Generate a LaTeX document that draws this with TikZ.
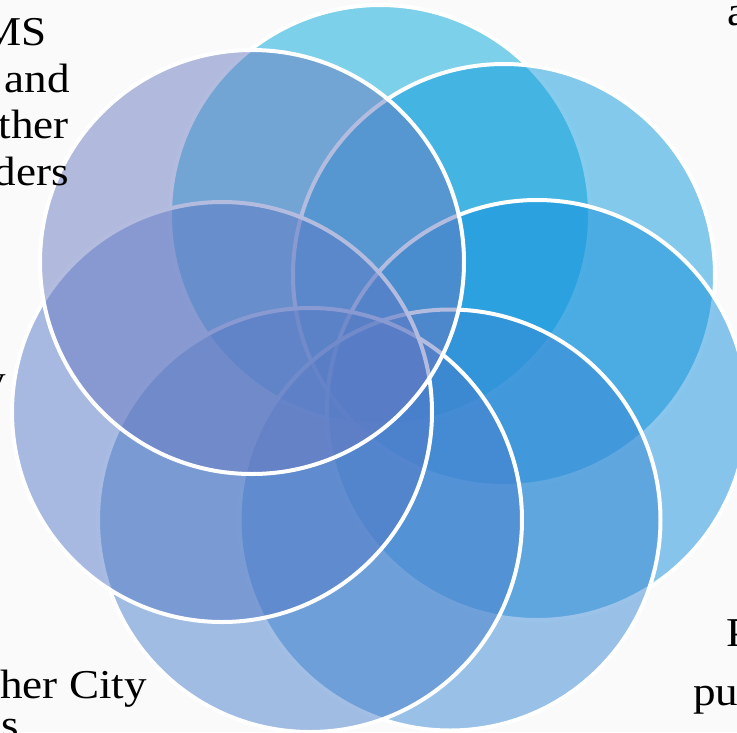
\documentclass[tikz,border=0pt]{standalone}
\usepackage{fontspec}
\newfontfamily\lblfont{Liberation Serif}[FakeStretch=1.1]
\definecolor{bgcol}{RGB}{250,250,250}
\definecolor{cA}{RGB}{0,167,217}
\definecolor{cB}{RGB}{13,153,221}
\definecolor{cC}{RGB}{21,143,221}
\definecolor{cD}{RGB}{57,137,213}
\definecolor{cE}{RGB}{71,127,205}
\definecolor{cF}{RGB}{85,121,199}
\definecolor{cG}{RGB}{105,123,193}
\begin{document}
\begin{tikzpicture}[x=1pt,y=-1pt,
  circ/.style={circle, draw=white, line width=4pt, fill opacity=0.5, inner sep=0pt},
  lbl/.style={font=\lblfont\fontsize{41}{49}\selectfont, inner sep=0pt, text=black}]
\useasboundingbox (0,0) rectangle (737,732);
\fill[bgcol] (0,0) rectangle (737,732);
% seven overlapping circles, drawn in order
\node[circ, fill=cA, minimum size=420pt] (A) at (380,215) {};
\node[circ, fill=cB, minimum size=422pt] (B) at (504,275) {};
\node[circ, fill=cC, minimum size=420pt] (C) at (537,410) {};
\node[circ, fill=cD, minimum size=421pt] (D) at (450,520) {};
\node[circ, fill=cE, minimum size=424pt] (E) at (310,520) {};
\node[circ, fill=cF, minimum size=420pt] (F) at (222,412) {};
\node[circ, fill=cG, minimum size=424pt] (G) at (252,262) {};
% label fragments
\node[lbl, anchor=base east] (t1) at (47,45) {MS};
\node[lbl, anchor=base east] (t2) at (70,92) {and};
\node[lbl, anchor=base east] (t3) at (69,138) {ther};
\node[lbl, anchor=base east] (t4) at (69,185) {ders};
\node[lbl, anchor=base west] (t5) at (727,25) {a};
\node[lbl, anchor=base east] (t6) at (6,393) {y};
\node[lbl, anchor=base west] (t7) at (726,646) {P};
\node[lbl, anchor=base west] (t8) at (693,705) {pu};
\node[lbl, anchor=base east] (t9) at (147,698) {her City};
\node[lbl, anchor=base west] (t10) at (1,738) {s};
\end{tikzpicture}
\end{document}
